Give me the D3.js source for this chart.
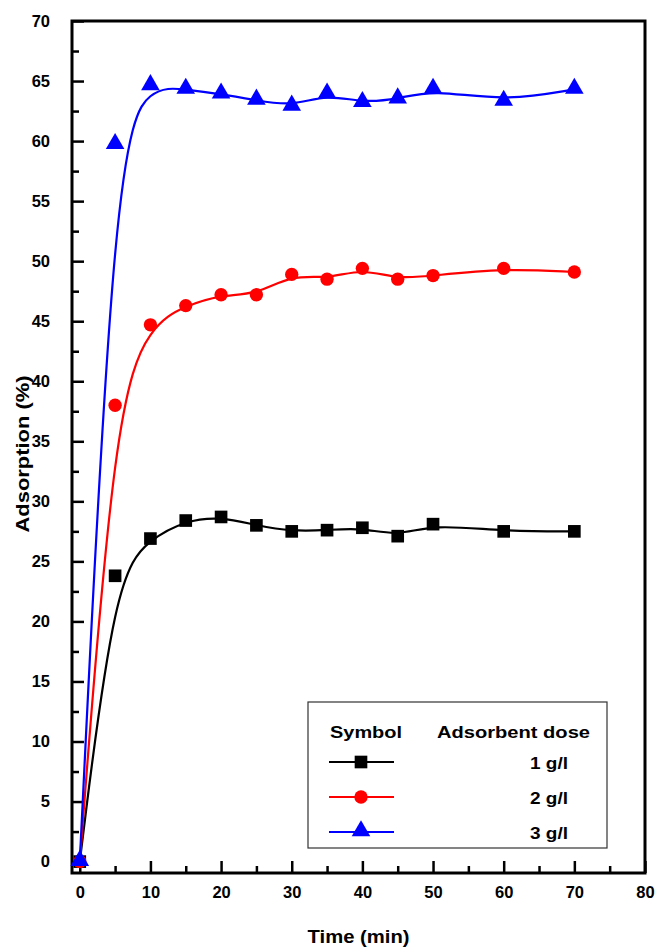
<!DOCTYPE html>
<html>
<head>
<meta charset="utf-8">
<script src="https://cdn.jsdelivr.net/npm/d3@7"></script>
<style>
  body { margin: 0; background: #fff; }
  svg text { font-family: "Liberation Sans", Arial, sans-serif; font-weight: bold; }
</style>
</head>
<body>
<svg id="chart" width="656" height="947"></svg>
<script>
// time points (min)
var times = [0, 5, 10, 15, 20, 25, 30, 35, 40, 45, 50, 60, 70];

// adsorption (%) for each dose
var dose1 = [0, 23.8, 26.9, 28.4, 28.7, 28.0, 27.5, 27.6, 27.8, 27.1, 28.1, 27.5, 27.5];
var dose2 = [0, 38.0, 44.7, 46.3, 47.2, 47.2, 48.9, 48.5, 49.4, 48.5, 48.8, 49.4, 49.1];
var dose3 = [0, 59.7, 64.6, 64.3, 63.9, 63.4, 62.9, 63.9, 63.2, 63.5, 64.3, 63.3, 64.3];

var seriesNames = ["1 g/l", "2 g/l", "3 g/l"];
var seriesColors = ["#000000", "#ff0000", "#0000ff"];
var seriesSymbols = [d3.symbolSquare, d3.symbolCircle, d3.symbolTriangle];

var xTicks = [0, 10, 20, 30, 40, 50, 60, 70, 80];
var yTicks = [0, 5, 10, 15, 20, 25, 30, 35, 40, 45, 50, 55, 60, 65, 70];

var svg = d3.select("#chart");
// plot frame edges (px)
var pLeft = 72, pRight = 645, pTop = 21, pBottom = 873;

var x = d3.scaleLinear().domain([-1.1, 80]).range([pLeft, pRight]);
var y = d3.scaleLinear().domain([-0.95, 70]).range([pBottom, pTop]);

// axes, ticks pointing inward
var xAxis = svg.append("g").attr("transform", "translate(0," + pBottom + ")")
    .call(d3.axisBottom(x).tickValues(xTicks).tickSize(-12).tickPadding(20).tickFormat(d3.format("d")));
var xMinor = svg.append("g").attr("transform", "translate(0," + pBottom + ")")
    .call(d3.axisBottom(x).tickValues(d3.range(5, 80, 10)).tickSize(-7).tickFormat(""));
var yAxis = svg.append("g").attr("transform", "translate(" + pLeft + ",0)")
    .call(d3.axisLeft(y).tickValues(yTicks).tickSize(-12).tickPadding(22).tickFormat(d3.format("d")));
var yMinor = svg.append("g").attr("transform", "translate(" + pLeft + ",0)")
    .call(d3.axisLeft(y).tickValues(d3.range(2.5, 70, 5)).tickSize(-7).tickFormat(""));

[xAxis, xMinor, yAxis, yMinor].forEach(function(g) {
  g.select(".domain").remove();
  g.selectAll(".tick line").attr("stroke", "#000").attr("stroke-width", 2.5);
  g.selectAll(".tick text").attr("font-size", 16.5).attr("fill", "#000");
});
xAxis.selectAll(".tick text").attr("dy", "0.3em");

// frame
svg.append("rect")
    .attr("x", pLeft).attr("y", pTop)
    .attr("width", pRight - pLeft).attr("height", pBottom - pTop)
    .attr("fill", "none").attr("stroke", "#000").attr("stroke-width", 3);

// axis titles (the original font is a bit wider than Arial)
svg.append("text")
    .attr("x", (pLeft + pRight) / 2).attr("y", 943)
    .attr("text-anchor", "middle").attr("font-size", 19)
    .attr("textLength", 102).attr("lengthAdjust", "spacingAndGlyphs")
    .text("Time (min)");
svg.append("text")
    .attr("transform", "translate(29," + 454 + ") rotate(-90)")
    .attr("text-anchor", "middle").attr("font-size", 19)
    .attr("textLength", 157).attr("lengthAdjust", "spacingAndGlyphs")
    .text("Adsorption (%)");

// curves (B-spline through the data points) and markers
var allSeries = [dose1, dose2, dose3];
var line = d3.line()
    .x(function(d) { return x(d[0]); })
    .y(function(d) { return y(d[1]); })
    .curve(d3.curveBasis);

var markerSizes = [160, 140, 150];

allSeries.forEach(function(vals, i) {
  var pts = times.map(function(t, j) { return [t, vals[j]]; });
  svg.append("path")
      .datum(pts)
      .attr("d", line)
      .attr("fill", "none")
      .attr("stroke", seriesColors[i])
      .attr("stroke-width", 2.2);
});

allSeries.forEach(function(vals, i) {
  var pts = times.map(function(t, j) { return [t, vals[j]]; });
  svg.append("g").selectAll("path")
      .data(pts)
      .enter().append("path")
      .attr("transform", function(d) {
        var dy = seriesSymbols[i] === d3.symbolTriangle ? -1 : 0;
        return "translate(" + x(d[0]) + "," + (y(d[1]) + dy) + ")";
      })
      .attr("d", d3.symbol().type(seriesSymbols[i]).size(markerSizes[i]))
      .attr("fill", seriesColors[i]);
});

// legend
var legend = svg.append("g");
legend.append("rect")
    .attr("x", 308).attr("y", 702)
    .attr("width", 299).attr("height", 146)
    .attr("fill", "#fff").attr("stroke", "#333").attr("stroke-width", 1.2);
legend.append("text").attr("x", 330).attr("y", 738).attr("font-size", 16.5)
    .attr("textLength", 72).attr("lengthAdjust", "spacingAndGlyphs").text("Symbol");
legend.append("text").attr("x", 437).attr("y", 738).attr("font-size", 16.5)
    .attr("textLength", 153).attr("lengthAdjust", "spacingAndGlyphs").text("Adsorbent dose");

var rowY = [762, 797, 832];
seriesNames.forEach(function(name, i) {
  legend.append("line")
      .attr("x1", 329).attr("x2", 394)
      .attr("y1", rowY[i]).attr("y2", rowY[i])
      .attr("stroke", seriesColors[i]).attr("stroke-width", 2);
  legend.append("path")
      .attr("transform", "translate(361," + (rowY[i] - (i === 2 ? 1 : 0)) + ")")
      .attr("d", d3.symbol().type(seriesSymbols[i]).size(markerSizes[i]))
      .attr("fill", seriesColors[i]);
  legend.append("text")
      .attr("x", 530).attr("y", rowY[i] + 7)
      .attr("font-size", 16.5)
      .attr("textLength", 38).attr("lengthAdjust", "spacingAndGlyphs")
      .text(name);
});
</script>
</body>
</html>
